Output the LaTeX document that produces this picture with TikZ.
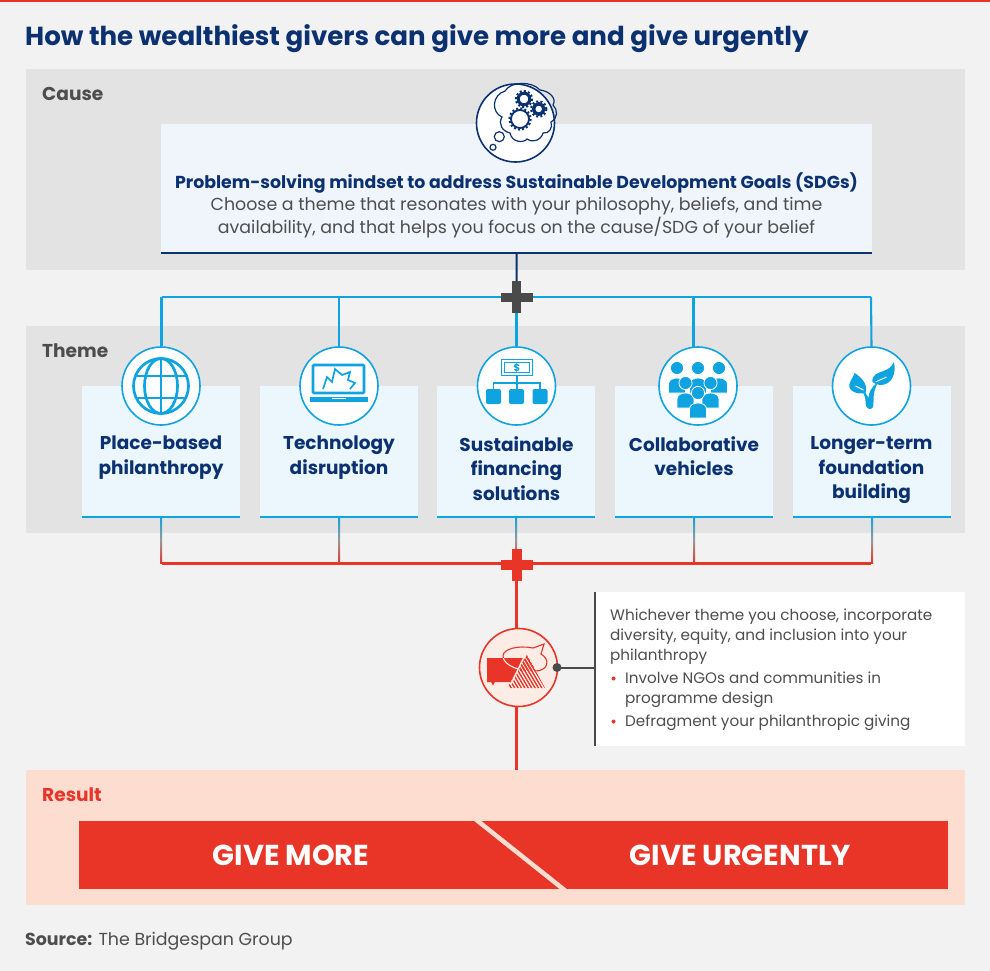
\documentclass[tikz,border=0pt]{standalone}
\usepackage{fontspec}
\setmainfont{Poppins}
\usetikzlibrary{shapes.geometric,calc}
\definecolor{bgc}{HTML}{F2F2F2}
\definecolor{panelc}{HTML}{E3E3E3}
\definecolor{causec}{HTML}{F0F5FC}
\definecolor{themec}{HTML}{EBF6FD}
\definecolor{navy}{HTML}{0B3170}
\definecolor{bluec}{HTML}{0FA3E0}
\definecolor{redc}{HTML}{E83527}
\definecolor{pinkc}{HTML}{FCDDD0}
\definecolor{pale}{HTML}{FBEDE6}
\definecolor{darkc}{HTML}{4A4A4A}
\definecolor{textc}{HTML}{4D4D4D}
\newcommand{\bubblepath}{(503,656) .. controls (503,649) and (518,645) .. (533,648) -- (544,644) -- (541,654) .. controls (551,660) and (548,671) .. (535,671) .. controls (522,672) and (503,666) .. (503,656) -- cycle}
\tikzset{
  panel/.style={fill=#1,draw=none,inner sep=0pt,anchor=north west},
  head/.style={anchor=west,inner sep=0pt,font=\fontsize{18.6}{20}\selectfont\bfseries,text=#1},
  themebox/.style={fill=themec,draw=none,minimum width=158pt,minimum height=131pt,inner sep=0pt},
  themetxt/.style={anchor=north,align=center,inner sep=0pt,text=navy,font=\fontsize{18.5}{24.5}\selectfont\bfseries},
  iconring/.style={circle,draw=bluec,fill=white,line width=1.6pt,minimum size=78pt,inner sep=0pt},
  blueln/.style={draw=bluec,line width=2.1pt},
  redln/.style={draw=redc,line width=2.1pt},
  ic/.style={draw=bluec,line width=2.7pt},
  bodytxt/.style={anchor=north west,inner sep=0pt,align=left,text=textc,font=\fontsize{15.2}{20}\selectfont},
}
\begin{document}
\begin{tikzpicture}[x=1pt,y=-1pt]
\useasboundingbox (0,0) rectangle (990,971);
\fill[bgc] (0,0) rectangle (990,971);
\fill[redc] (0,0) rectangle (990,2);
% title
\node[anchor=west,inner sep=0pt,text=navy,font=\fontsize{26.1}{28}\selectfont\bfseries] (title) at (25,39) {How the wealthiest givers can give more and give urgently};
% panels
\node[panel=panelc,minimum width=939pt,minimum height=201pt] (causep) at (26,69) {};
\node[panel=panelc,minimum width=939pt,minimum height=207pt] (themep) at (26,326) {};
\node[panel=pinkc,minimum width=939pt,minimum height=135pt] (resultp) at (26,770) {};
\node[head=textc] (causeh) at (42,94) {Cause};
\node[head=textc] (themeh) at (42,351) {Theme};
\node[head=redc] (resulth) at (42,795) {Result};
% cause box
\node[panel=causec,minimum width=711pt,minimum height=129pt] (causeb) at (161,124) {};
\draw[navy,line width=2pt] (causeb.south west) -- (causeb.south east);
\node[inner sep=0pt,text=navy,font=\fontsize{17.35}{20}\selectfont\bfseries] (causet) at (516.5,183) {Problem-solving mindset to address Sustainable Development Goals (SDGs)};
\node[inner sep=0pt,align=center,text=textc,font=\fontsize{17.4}{23}\selectfont] (caused) at (516.5,218) {Choose a theme that resonates with your philosophy, beliefs, and time\\availability, and that helps you focus on the cause/SDG of your belief};
% plus nodes
\coordinate (pb) at (516.5,297);
\coordinate (pr) at (516.5,564.5);
% theme boxes
\foreach \n/\x in {a/161,b/339,c/516,d/694,e/872}{
  \node[themebox] (box\n) at (\x,451.5) {};
  \draw[bluec,line width=2pt] (box\n.south west) -- (box\n.south east);
}
% connectors blue
\draw[navy,line width=2pt] (causeb.south) -- (pb);
\coordinate (bl) at (161.5,297);
\coordinate (br) at (871,297);
\node[iconring] (ica) at (161,386) {};
\node[iconring] (icb) at (339,386) {};
\node[iconring] (icc) at (516.5,386) {};
\node[iconring] (icd) at (698,386) {};
\node[iconring] (ice) at (871.5,386) {};
\draw[blueln] (bl) -- (br);
\draw[blueln] (bl) -- (bl |- ica.north);
\draw[blueln] (339,297) -- (icb.north);
\draw[blueln] (pb) -- (icc.north);
\draw[blueln] (693.5,297) -- (693.5,347.5);
\draw[blueln] (br) -- (ice.north);
% plus blue
\fill[darkc] (500.5,292.5) rectangle (532.5,301.5);
\fill[darkc] (512,281) rectangle (521,313);
% red connectors with gradient
\coordinate (rl) at (162,563.5);
\coordinate (rr) at (871,563.5);
\draw[redln] (rl) -- (rr);
\foreach \n in {a,b,c,d,e}{
  \shade[top color=bluec,bottom color=redc,middle color=gray!80] ($(box\n.south)+(-1,0)$) rectangle ($(box\n.south |- rl)+(1,0)$);
}
\draw[redln] (pr) -- (516.5,770);
\fill[redc] (501,560) rectangle (533,569.5);
\fill[redc] (512,549) rectangle (521.5,580.5);
% labels in theme boxes
\node[themetxt] (ta) at (161,436) {\vphantom{lg}Place-based\\philanthropy};
\node[themetxt] (tb) at (339,436) {\vphantom{lg}Technology\\disruption};
\node[themetxt] (tc) at (516.5,436) {\vphantom{lg}Sustainable\\financing\\solutions};
\node[themetxt] (td) at (694,436) {\vphantom{lg}Collaborative\\vehicles};
\node[themetxt] (te) at (871.5,436) {\vphantom{lg}Longer-term\\foundation\\building};
% cause icon
\node[circle,draw=navy,fill=white,line width=1.6pt,minimum size=78pt,inner sep=0pt] (icz) at (515.5,123) {};
\draw[navy,line width=1.2pt] (505,91)
  .. controls (492,95) and (491,112) .. (502,117)
  .. controls (498,124) and (502,131) .. (510,133)
  .. controls (512,143) and (524,143) .. (527,139)
  .. controls (531,143) and (541,141) .. (543,133)
  .. controls (549,134) and (553,128) .. (551,122)
  .. controls (558,118) and (558,110) .. (553,105)
  .. controls (557,98) and (549,91) .. (540,90)
  .. controls (532,81) and (511,81) .. (505,91) -- cycle;
\draw[navy,line width=1.2pt] (499.3,136.7) circle (5);
\draw[navy,line width=1.2pt] (493,147.3) circle (3);
\foreach \cx/\cy/\r/\w in {520/119/9/1.8, 524/99/5.8/3, 538.7/109/5.2/3.4}{
  \draw[navy,line width=\w pt] (\cx,\cy) circle (\r);
  \draw[navy,line width=2pt,dash pattern=on 2pt off 2.2pt] (\cx,\cy) circle (\r+\w/2+0.8);
}
% globe
\begin{scope}[shift={(161,386)}]
  \draw[ic] (0,0) circle (27.5);
  \draw[ic] (0,0) ellipse (16.5 and 27.5);
  \draw[ic] (0,-27.5) -- (0,27.5);
  \draw[ic] (-26,-10) -- (26,-10);
  \draw[ic] (-26,12) -- (26,12);
\end{scope}
% laptop
\begin{scope}[shift={(339,386)}]
  \draw[ic,rounded corners=1pt] (-26,-21) rectangle (25,7);
  \fill[bluec] (-29,11) rectangle (29,16);
  \fill[white] (-7,11.5) rectangle (7,12.4);
  \draw[bluec,line width=1.7pt] (-16,3) -- (-12,-9) -- (-7,-4) -- (-4,-17) -- (3,-11) -- (11,-14) -- (9,-6) -- (16,-3) -- (11,3);
\end{scope}
% finance
\begin{scope}[shift={(517,386)}]
  \draw[bluec,line width=1.8pt] (-15.5,-26.5) rectangle (15.5,-10.5);
  \draw[bluec,line width=1pt,fill=white] (-12.5,-23.5) rectangle (12.5,-13.5);
  \node[inner sep=0pt,text=bluec,font=\fontsize{10}{10}\selectfont\bfseries] (dollar) at (0,-18.5) {\$};
  \draw[bluec,line width=1.6pt] (0,-10) -- (0,4);
  \draw[bluec,line width=1.6pt] (-23.5,4) -- (-23.5,-3) -- (23,-3) -- (23,4);
  \foreach \x in {-23.5,-0.5,23}{\fill[bluec,rounded corners=2pt] (\x-7.5,3) rectangle (\x+7.5,18);}
\end{scope}
% people
\begin{scope}[shift={(698,386)}]
  \foreach \x/\y in {-21/-18,0/-18,21/-18,-12.5/-3,12.5/-3,0/7}{
      \begin{scope}[shift={(\x,\y)}]
      \filldraw[fill=bluec,draw=white,line width=0.8pt] (-8.5,25) -- (-8.5,16) .. controls (-8.5,8) and (8.5,8) .. (8.5,16) -- (8.5,25) -- cycle;
      \filldraw[fill=bluec,draw=white,line width=0.8pt] (0,0) circle (6.6);
      \end{scope}
  }
\end{scope}
% leaf
\begin{scope}[shift={(871.5,386)}]
  \fill[bluec] (-1.5,23) .. controls (2,23) and (2,19) .. (2,15) .. controls (2,8) and (3,3) .. (6,-3)
     .. controls (-1,1) and (-3,8) .. (-3,12) .. controls (-5,8) and (-7,6) .. (-9,4) .. controls (-8,8) and (-6,11) .. (-6,15) .. controls (-6,19) and (-5,23) .. (-1.5,23) -- cycle;
  \fill[bluec] (1,-4) .. controls (0,-11) and (6,-13) .. (12,-15) .. controls (17,-17) and (20,-19) .. (22.5,-24)
     .. controls (25,-12) and (20,-1) .. (9,-1) .. controls (6,-1) and (3,-2) .. (1,-4) -- cycle;
  \fill[bluec] (-6,7) .. controls (-14,9) and (-24,5) .. (-22,-2) .. controls (-21,-6) and (-18,-9) .. (-17,-13)
     .. controls (-10,-9) and (-3,-1) .. (-6,7) -- cycle;
  \draw[white,line width=0.9pt] (4,-4) -- (15,-9);
  \draw[white,line width=0.9pt] (-16,0) -- (-8,4);
\end{scope}
% DEI icon
\node[circle,draw=redc,fill=pale,line width=1.6pt,minimum size=78pt,inner sep=0pt] (icr) at (518.5,667.5) {};
\fill[redc] (487,658) -- (524,658) -- (524,682) -- (495,682) -- (493,685.5) -- (491,682) -- (487,682) -- cycle;
\draw[redc,line width=1.1pt] \bubblepath;
\begin{scope}
  \clip (487,658) rectangle (524,682);
  \draw[pale,line width=1.1pt] \bubblepath;
\end{scope}
\begin{scope}
  \clip (527,655) -- (545,688) -- (507,688) -- cycle;
  \fill[pale] (500,650) rectangle (550,692);
  \fill[redc] (527,655) -- (536,671) -- (517,671) -- cycle;
  \foreach \i in {0,3.4,...,50}{
    \draw[pale,line width=0.9pt] (490+\i,655) -- (512+\i,692);
    \draw[redc,line width=1.4pt] (491.7+\i,655) -- (513.7+\i,692);
  }
\end{scope}
\draw[pale,line width=1.4pt] (511,684) -- (524,657);
% DEI note
\node[panel=white,minimum width=370pt,minimum height=154pt] (note) at (595,592) {};
\draw[darkc,line width=2pt] (note.north west) -- (note.south west);
\fill[darkc] (557,667.5) circle (4.5) coordinate (dot);
\draw[darkc,line width=2pt] (dot) -- (note.west |- dot);
\node[bodytxt] (n1) at (610,609) {Whichever theme you choose, incorporate\\diversity, equity, and inclusion into your\\philanthropy};
\node[bodytxt] (n2) at (625,672) {Involve NGOs and communities in\\programme design};
\node[bodytxt] (n3) at (625,715) {Defragment your philanthropic giving};
\fill[redc] (613.5,678.5) circle (2);
\fill[redc] (613.5,721.5) circle (2);
% result
\node[panel=redc,minimum width=869pt,minimum height=68pt] (bar) at (79,821) {};
\begin{scope}
  \clip (440,820) rectangle (600,890);
  \draw[pinkc,line width=4.5pt] (474,818) -- (567,892);
\end{scope}
\node[inner sep=0pt,text=white,font=\fontsize{28.8}{30}\selectfont\bfseries] (gm) at (291,855.5) {GIVE MORE};
\node[inner sep=0pt,text=white,font=\fontsize{28.8}{30}\selectfont\bfseries] (gu) at (740.5,855.5) {GIVE URGENTLY};
% source
\node[anchor=west,inner sep=0pt,text=textc,font=\fontsize{17.4}{19}\selectfont] (src) at (25,941) {\textbf{Source:} The Bridgespan Group};
\end{tikzpicture}
\end{document}
